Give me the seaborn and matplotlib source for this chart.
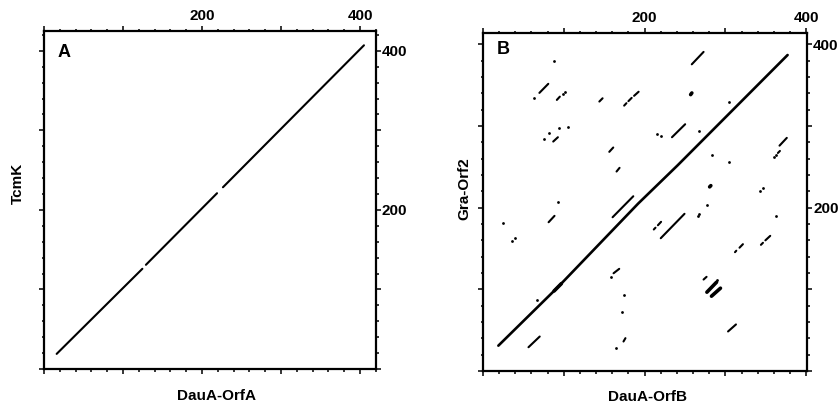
import numpy as np
import pandas as pd
import matplotlib
matplotlib.use("Agg")
import matplotlib.pyplot as plt
from matplotlib.ticker import MultipleLocator, FuncFormatter
import seaborn as sns

#%% ============================= data ================================
# panel A: DauA-OrfA vs TcmK, one diagonal broken in two places (x0, y0, x1, y1)
a_segments = [(16, 19, 124.5, 126),
              (129, 131, 219, 221),
              (226.5, 228.5, 405, 407)]

# panel B: DauA-OrfB vs Gra-Orf2
b_main_x = [19, 93, 192, 241, 377]
b_main_y = [31, 103, 205, 252, 387]

b_segments = [(258.4, 375.6, 273, 390.8), (69.8, 340.6, 80.8, 351.7),
              (91.4, 332, 95.1, 336), (144, 330, 148, 334),
              (174.7, 325, 177.5, 328), (180, 330.5, 184, 334.5),
              (187, 337, 192.6, 342), (86.9, 281, 92.7, 286.3),
              (156.3, 268.4, 161.2, 273.7), (165.3, 244.3, 169, 248.8),
              (233.9, 286.3, 250.2, 302.2), (367, 276, 376, 285.5),
              (365, 267, 367.5, 269.5), (160.4, 188.3, 186, 214),
              (81.2, 182.2, 88.5, 190), (161.6, 119.7, 168.6, 125.1),
              (173.9, 36.1, 176.3, 40.2), (56.3, 29.1, 70.2, 42.2),
              (220, 162.6, 249.4, 192.5), (211.4, 173.3, 213.5, 175.5),
              (216.5, 178.5, 220.4, 182.7), (311.9, 145.5, 313.5, 147.3),
              (317.5, 151, 321.7, 155.3), (344, 154.5, 346.5, 157),
              (349.5, 160, 355.5, 165.5), (273, 112, 276.7, 115.3),
              (303.3, 48.4, 313.1, 57)]
b_thick = [(277.1, 96.5, 289, 108.7), (282.8, 91.6, 293.9, 101.4),
           (88, 98, 97, 107), (257, 338.5, 258.5, 340.5),
           (280.5, 225.5, 282, 227)]

b_dots_x = [87.3, 62.8, 98.4, 101.6, 75.9, 82, 94.3, 105.3, 93, 215, 220, 267,
            304.5, 359.6, 363, 283.3, 304.5, 342.5, 346.1, 277, 25.3, 35.5,
            39.2, 158.8, 174.3, 171.8, 164, 66.5, 265.7, 267.8, 362.4, 289.4]
b_dots_y = [380, 334, 339.4, 341.4, 284.3, 291, 297.8, 298.5, 207.5, 290.4, 288,
            294.5, 330, 261.8, 265, 265, 256.5, 221, 224.7, 203, 181.8, 159.8,
            163, 114.5, 93.3, 72.5, 28, 86.7, 190.4, 192.5, 189.5, 111.7]


def seg_frame(segs):
    rows = []
    for i, (x0, y0, x1, y1) in enumerate(segs):
        rows += [(i, x0, y0), (i, x1, y1)]
    return pd.DataFrame(rows, columns=["seg", "x", "y"])


#%% ============================= style ================================
sns.set_style("ticks")
plt.rcParams["font.family"] = ["Liberation Sans", "DejaVu Sans"]
plt.rcParams["font.weight"] = "bold"
plt.rcParams["text.color"] = "black"
plt.rcParams["axes.labelcolor"] = "black"
plt.rcParams["xtick.color"] = "black"
plt.rcParams["ytick.color"] = "black"

fig = plt.figure(figsize=(8.4, 4.05), dpi=100)
ax_a = fig.add_axes([0.0524, 0.0889, 0.395, 0.8346])
ax_b = fig.add_axes([0.575, 0.084, 0.3857, 0.8346])


def style_axis(ax, xmax, ymax):
    ax.set_xlim(0, xmax)
    ax.set_ylim(0, ymax)
    for s in ax.spines.values():
        s.set_visible(True)
        s.set_linewidth(1.6)
        s.set_color("black")
    for axis in (ax.xaxis, ax.yaxis):
        axis.set_major_locator(MultipleLocator(100))
        axis.set_minor_locator(MultipleLocator(20))
        axis.set_major_formatter(FuncFormatter(lambda v, p: f"{int(v)}" if int(v) in (200, 400) else ""))
    ax.tick_params(which="both", direction="out", top=True, right=True, bottom=True, left=True,
                   labeltop=True, labelright=True, labelbottom=False, labelleft=False,
                   color="black", width=1.1)
    ax.tick_params(which="major", length=3.6, labelsize=11, labelcolor="black")
    ax.tick_params(axis="x", which="major", pad=2)
    ax.tick_params(axis="y", which="major", pad=0.8)
    ax.tick_params(which="minor", length=1.8)
    for lab in ax.get_xticklabels() + ax.get_yticklabels():
        lab.set_fontweight("bold")


#%% ============================= panel A ================================
sns.lineplot(data=seg_frame(a_segments), x="x", y="y", units="seg", estimator=None,
             sort=False, color="black", lw=1.5, ax=ax_a)
style_axis(ax_a, 420, 425)
ax_a.set_xlabel("DauA-OrfA", fontsize=11, fontweight="bold")
ax_a.set_ylabel("TcmK", fontsize=11, fontweight="bold")
ax_a.xaxis.set_label_coords(0.521, -0.058)
ax_a.yaxis.set_label_coords(-0.057, 0.55)
ax_a.text(0.042, 0.962, "A", transform=ax_a.transAxes, ha="left", va="top",
          fontsize=13, fontweight="bold")

#%% ============================= panel B ================================
sns.lineplot(x=b_main_x, y=b_main_y, color="black", lw=1.9, sort=False, ax=ax_b)
sns.lineplot(data=seg_frame(b_segments), x="x", y="y", units="seg", estimator=None,
             sort=False, color="black", lw=1.5, ax=ax_b)
sns.lineplot(data=seg_frame(b_thick), x="x", y="y", units="seg", estimator=None,
             sort=False, color="black", lw=2.6, ax=ax_b)
sns.scatterplot(x=b_dots_x, y=b_dots_y, color="black", s=4, linewidth=0, ax=ax_b)
style_axis(ax_b, 401, 414)
ax_b.set_xlabel("DauA-OrfB", fontsize=11, fontweight="bold")
ax_b.set_ylabel("Gra-Orf2", fontsize=11, fontweight="bold")
ax_b.xaxis.set_label_coords(0.509, -0.056)
ax_b.yaxis.set_label_coords(-0.037, 0.54)
ax_b.text(0.043, 0.975, "B", transform=ax_b.transAxes, ha="left", va="top",
          fontsize=13, fontweight="bold")

fig.savefig("out.png", dpi=100, facecolor="white")
